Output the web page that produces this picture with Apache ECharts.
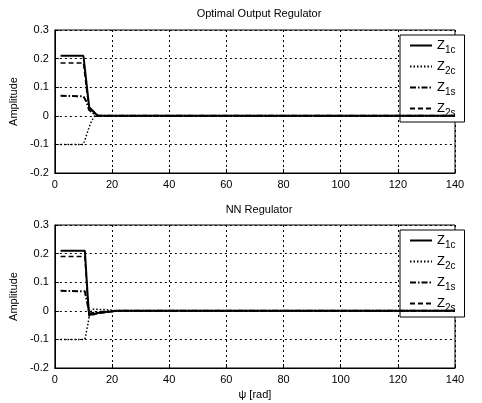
<!DOCTYPE html>
<html><head><meta charset="utf-8">
<script src="https://cdn.jsdelivr.net/npm/echarts@6/dist/echarts.min.js"></script>
<style>html,body{margin:0;padding:0;background:#fff}#c{width:482px;height:403px}</style>
</head><body><div id="c"></div>
<script>
// ---- data ----
const seriesNames = ['Z1c', 'Z2c', 'Z1s', 'Z2s'];
const xTicks = [0, 20, 40, 60, 80, 100, 120, 140];
const yTicks = [-0.2, -0.1, 0, 0.1, 0.2, 0.3];
const titles = ['Optimal Output Regulator', 'NN Regulator'];

// top: Optimal Output Regulator
const psiTop  = [2, 10, 11, 12, 13, 14, 15, 17, 140];
const topZ1c  = [0.21, 0.21, 0.12, 0.03, 0.02, 0.01, 0.0, 0.0, 0.0];
const topZ2c  = [-0.10, -0.10, -0.07, -0.04, -0.015, 0.0, 0.002, 0.0, 0.0];
const topZ1s  = [0.07, 0.068, 0.05, 0.02, 0.012, 0.005, 0.0, 0.0, 0.0];
const topZ2s  = [0.185, 0.185, 0.10, 0.025, 0.018, 0.008, 0.0, 0.0, 0.0];

// bottom: NN Regulator
const psiBot  = [2, 10.5, 11.5, 12, 13, 15, 18, 22, 140];
const botZ1c  = [0.21, 0.21, 0.05, -0.015, -0.012, -0.008, -0.004, 0.0, 0.0];
const botZ2c  = [-0.10, -0.10, -0.05, -0.02, 0.005, 0.005, 0.004, 0.0, 0.0];
const botZ1s  = [0.07, 0.068, 0.02, -0.01, -0.008, -0.005, -0.002, 0.0, 0.0];
const botZ2s  = [0.19, 0.19, 0.04, -0.02, -0.015, -0.01, -0.005, 0.0, 0.0];

const styles = [
  {type: 'solid', width: 2},
  {type: [1.5, 2], width: 1.5},
  {type: [6, 2, 1.5, 2], width: 2},
  {type: [5, 3], width: 1.5}
];

function pairs(xs, ys) { return xs.map((x, i) => [x, ys[i]]); }

const topData = [topZ1c, topZ2c, topZ1s, topZ2s];
const botData = [botZ1c, botZ2c, botZ1s, botZ2s];

const FONT = 'Liberation Sans';
const grids = [
  {left: 54, right: 27, top: 30, height: 143, show: true, borderColor: '#000', borderWidth: 1},
  {left: 54, right: 27, top: 225, height: 143, show: true, borderColor: '#000', borderWidth: 1}
];

function xAxis(i) {
  return {
    type: 'value', gridIndex: i, min: 0, max: 140, interval: 20,
    name: i === 1 ? 'ψ [rad]' : '', nameLocation: 'middle', nameGap: 21,
    nameTextStyle: {fontFamily: FONT, fontSize: 11, color: '#000'},
    axisLine: {show: true, onZero: false, lineStyle: {color: '#000'}},
    axisTick: {show: true, inside: true, length: 4, lineStyle: {color: '#000'}},
    axisLabel: {fontFamily: FONT, fontSize: 11, color: '#000', margin: 6},
    splitLine: {show: true, lineStyle: {color: '#000', type: [2, 3], width: 1}}
  };
}
function yAxis(i) {
  return {
    type: 'value', gridIndex: i, min: -0.2, max: 0.3, interval: 0.1,
    name: 'Amplitude', nameLocation: 'middle', nameGap: 32,
    nameTextStyle: {fontFamily: FONT, fontSize: 11, color: '#000'},
    axisLine: {show: true, onZero: false, lineStyle: {color: '#000'}},
    axisTick: {show: true, inside: true, length: 4, lineStyle: {color: '#000'}},
    axisLabel: {fontFamily: FONT, fontSize: 11, color: '#000', margin: 6,
      formatter: v => (Math.abs(v) < 1e-9 ? '0' : (Math.round(v * 10) / 10).toFixed(1))},
    splitLine: {show: true, lineStyle: {color: '#000', type: [2, 3], width: 1}}
  };
}

const series = [];
[topData, botData].forEach((set, gi) => {
  const xs = gi === 0 ? psiTop : psiBot;
  set.forEach((ys, k) => {
    series.push({
      name: seriesNames[k], type: 'line', xAxisIndex: gi, yAxisIndex: gi,
      data: pairs(xs, ys), showSymbol: false, symbol: 'none', animation: false,
      lineStyle: Object.assign({color: '#000'}, styles[k]), itemStyle: {color: '#000'},
      z: 10 - k
    });
  });
});

function legend(i) {
  return {
    show: true, orient: 'vertical', left: 400, top: i === 0 ? 35 : 230,
    backgroundColor: '#fff', borderColor: '#000', borderWidth: 1,
    padding: [4, 9, 4, 9], itemGap: 5, itemWidth: 22, itemHeight: 16,
    selectedMode: false,
    itemStyle: {opacity: 0, color: 'transparent', borderWidth: 0},
    data: seriesNames.map(n => ({name: n})),
    textStyle: {
      fontFamily: FONT, color: '#000', width: 22,
      rich: {
        z: {fontFamily: FONT, fontSize: 13, color: '#000'},
        s: {fontFamily: FONT, fontSize: 10, color: '#000', padding: [9, 0, 0, 0]}
      }
    },
    formatter: n => '{z|Z}{s|' + n.slice(1) + '}'
  };
}

const chart = echarts.init(document.getElementById('c'), null, {renderer: 'canvas'});
chart.setOption({
  animation: false,
  backgroundColor: '#fff',
  title: titles.map((t, i) => ({
    text: t, left: 254, top: i === 0 ? 3 : 199, textAlign: 'center',
    textStyle: {fontFamily: FONT, fontSize: 11, fontWeight: 'normal', color: '#000'}
  })),
  grid: grids,
  xAxis: [xAxis(0), xAxis(1)],
  yAxis: [yAxis(0), yAxis(1)],
  legend: [legend(0), legend(1)],
  series: series
});
</script></body></html>
